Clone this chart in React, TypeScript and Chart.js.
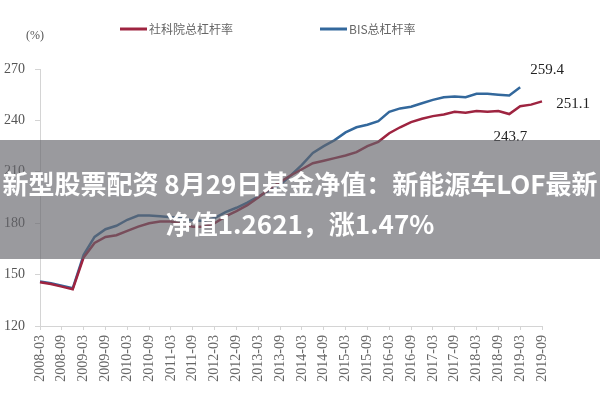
import React, { useEffect, useRef } from "react";
import { Chart, registerables } from "chart.js";

Chart.register(...registerables);

const quarters = [
  "2008-03","2008-06","2008-09","2008-12","2009-03","2009-06","2009-09","2009-12",
  "2010-03","2010-06","2010-09","2010-12","2011-03","2011-06","2011-09","2011-12",
  "2012-03","2012-06","2012-09","2012-12","2013-03","2013-06","2013-09","2013-12",
  "2014-03","2014-06","2014-09","2014-12","2015-03","2015-06","2015-09","2015-12",
  "2016-03","2016-06","2016-09","2016-12","2017-03","2017-06","2017-09","2017-12",
  "2018-03","2018-06","2018-09","2018-12","2019-03","2019-06","2019-09",
];

const cassLeverage = [
  145.5, 144.5, 143, 141.5, 160, 168.5, 172, 173,
  175.5, 178, 180, 181, 181, 179.5, 178, 178,
  180, 184, 187, 190.5, 195, 200, 204, 208,
  211.5, 215, 216.5, 218, 219.5, 221.5, 225, 227.5,
  232.5, 236, 239, 241, 242.5, 243.5, 245, 244.5,
  245.5, 245, 245.5, 243.7, 248.3, 249.2, 251.1,
];

const bisLeverage = [
  146, 145, 143.5, 142, 161.5, 172, 176.5, 178.5,
  182, 184.5, 184.5, 184, 183.5, 183, 181.5, 181.5,
  183, 186.5, 189, 192, 195.5, 199, 202.5, 208,
  214, 221, 225, 228.5, 233, 236, 237.5, 239.5,
  245, 247, 248, 250, 252, 253.5, 254, 253.5,
  255.5, 255.5, 255, 254.5, 259.4,
];

const seriesNames = ["社科院总杠杆率", "BIS总杠杆率"];
const yTicks = { min: 120, max: 270, step: 30 };
const unitLabel = "(%)";
const headlineLines = ["新型股票配资 8月29日基金净值：新能源车LOF最新", "净值1.2621，涨1.47%"];

// annotations: [datasetIndex, pointIndex, text]
const annotations: [number, number, string][] = [
  [1, 44, "259.4"],
  [0, 46, "251.1"],
  [0, 43, "243.7"],
];

const RED = "#9e2440";
const BLUE = "#33689c";

const annotationOffsets = [
  [27, -17],
  [31, 3],
  [1, 23],
];

const overlayPlugin = {
  id: "overlayTexts",
  afterDraw(chart: any) {
    const ctx = chart.ctx;
    ctx.save();
    const legendItems = [
      { color: RED, x: 120, text: seriesNames[0] },
      { color: BLUE, x: 320, text: seriesNames[1] },
    ];
    ctx.font = '12px "Noto Sans CJK SC"';
    ctx.textBaseline = "middle";
    ctx.textAlign = "left";
    legendItems.forEach((it) => {
      ctx.strokeStyle = it.color;
      ctx.lineWidth = 3;
      ctx.beginPath();
      ctx.moveTo(it.x, 29);
      ctx.lineTo(it.x + 27, 29);
      ctx.stroke();
      ctx.fillStyle = "#666";
      ctx.fillText(it.text, it.x + 29, 29);
    });
    ctx.font = '12px "Liberation Serif"';
    ctx.fillStyle = "#555";
    ctx.textAlign = "center";
    ctx.fillText(unitLabel, 35, 36);
    ctx.font = '15px "Liberation Serif"';
    ctx.fillStyle = "#222";
    annotations.forEach(([ds, idx, text], k) => {
      const meta = chart.getDatasetMeta(ds);
      const pt = meta.data[idx];
      if (!pt) return;
      ctx.fillText(text, pt.x + annotationOffsets[k][0], pt.y + annotationOffsets[k][1]);
    });
    ctx.restore();
  },
};

export default function App() {
  const ref = useRef<HTMLCanvasElement | null>(null);

  useEffect(() => {
    if (!ref.current) return;
    const chart = new Chart(ref.current, {
      type: "line",
      data: {
        labels: quarters,
        datasets: [
          {
            label: seriesNames[0],
            data: cassLeverage,
            borderColor: RED,
            backgroundColor: RED,
            borderWidth: 2.5,
            pointRadius: 0,
            tension: 0,
          },
          {
            label: seriesNames[1],
            data: bisLeverage,
            borderColor: BLUE,
            backgroundColor: BLUE,
            borderWidth: 2.5,
            pointRadius: 0,
            tension: 0,
          },
        ],
      },
      options: {
        animation: false,
        responsive: false,
        maintainAspectRatio: false,
        layout: { padding: { left: 0, right: 58, top: 69, bottom: 0 } },
        plugins: { legend: { display: false }, tooltip: { enabled: false } },
        scales: {
          x: {
            type: "category",
            offset: false,
            grid: { drawOnChartArea: false, drawTicks: true, tickLength: 4, color: "#d4d4d4" },
            border: { color: "#d4d4d4" },
            ticks: {
              autoSkip: false,
              maxRotation: 90,
              minRotation: 90,
              padding: 5,
              color: "#666",
              font: { family: "Liberation Serif", size: 14 },
              callback: (_v: any, i: number) => (i % 2 === 0 ? quarters[i] : null),
            },
            afterFit: (s: any) => {
              s.height = 74;
            },
          },
          y: {
            min: yTicks.min,
            max: yTicks.max,
            grid: { drawOnChartArea: false, drawTicks: true, tickLength: 5, color: "#d4d4d4" },
            border: { color: "#d4d4d4" },
            ticks: {
              stepSize: yTicks.step,
              padding: 10,
              color: "#555",
              font: { family: "Liberation Serif", size: 14 },
            },
            afterFit: (s: any) => {
              s.width = 40;
            },
          },
        },
      },
      plugins: [overlayPlugin],
    });
    return () => chart.destroy();
  }, []);

  return (
    <div style={{ position: "absolute", left: 0, top: 0, width: 600, height: 400, background: "#fff", overflow: "hidden" }}>
      <canvas ref={ref} width={600} height={400} style={{ position: "absolute", left: 0, top: 0, width: 600, height: 400 }} />
      <div
        style={{
          position: "absolute",
          left: 0,
          top: 140,
          width: 600,
          height: 119,
          background: "rgba(100,100,106,0.65)",
        }}
      />
      <div
        style={{
          position: "absolute",
          left: -10,
          top: 163,
          width: 620,
          textAlign: "center",
          color: "#fff",
          fontFamily: '"Noto Sans CJK SC", sans-serif',
          fontWeight: 700,
          fontSize: 26,
          lineHeight: "40px",
          whiteSpace: "nowrap",
        }}
      >
        {headlineLines.map((l, i) => (
          <div key={i}>{l}</div>
        ))}
      </div>
    </div>
  );
}
